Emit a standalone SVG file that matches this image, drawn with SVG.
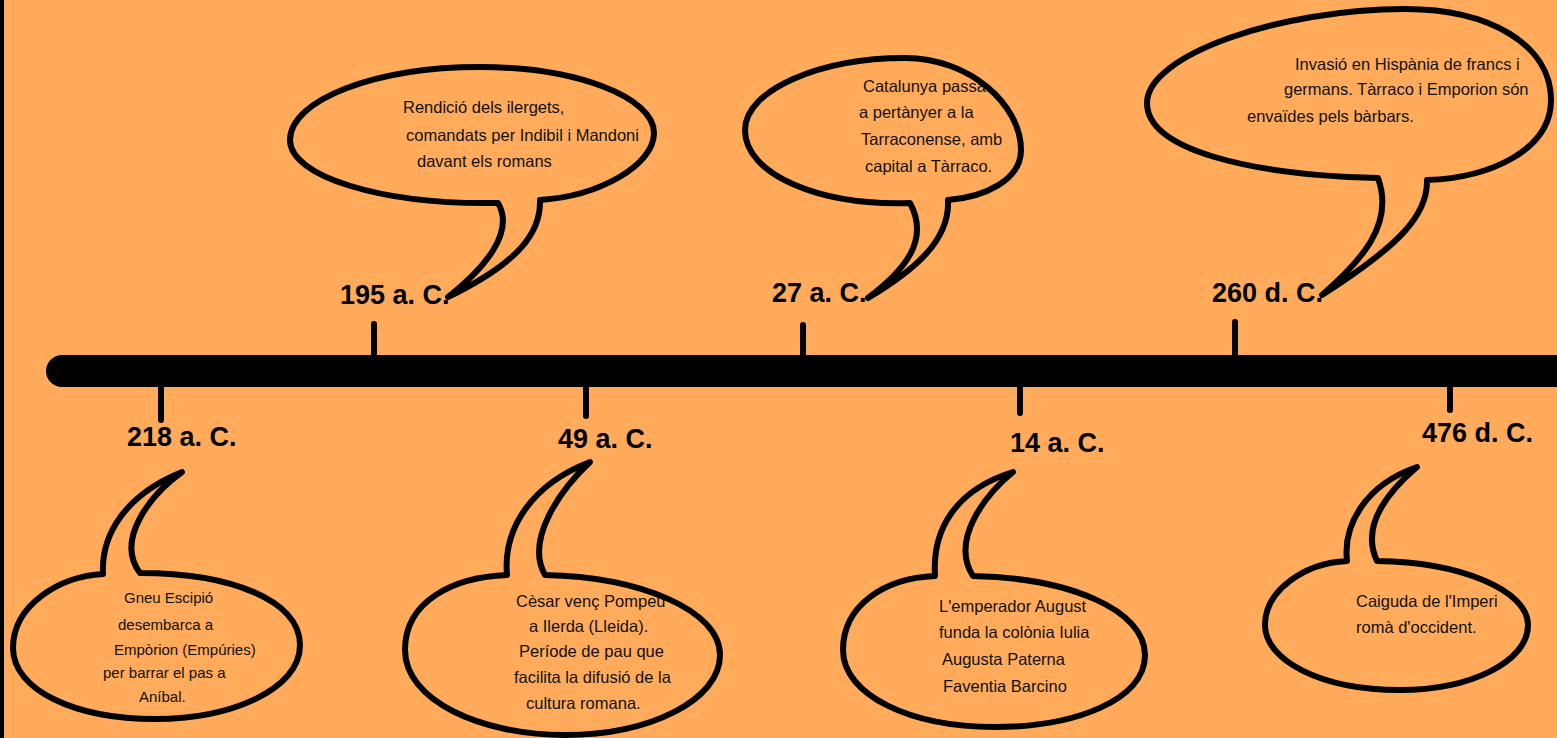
<svg xmlns="http://www.w3.org/2000/svg" width="1557" height="738" viewBox="0 0 1557 738">
<style>
.bub{fill:#FFAB5B;stroke:#000;stroke-width:6;stroke-linejoin:round}
.tick{stroke:#000;stroke-width:6;stroke-linecap:round}
.date{font-family:"Liberation Sans",Arial,sans-serif;font-weight:bold;font-size:27px;fill:#000}
.t{font-family:"Liberation Sans",Arial,sans-serif;font-size:16.5px;fill:#111}
.s{font-size:15px}
</style>
<rect width="1557" height="738" fill="#FFAB5B"/>
<rect x="0" y="0" width="4" height="738" fill="#000"/>
<g id="timeline">
<rect x="46" y="355" width="1530" height="32" rx="16" fill="#000"/>
</g>
<g id="connectors">
<line class="tick" x1="374" y1="324" x2="374" y2="356"/>
<line class="tick" x1="803" y1="325" x2="803" y2="356"/>
<line class="tick" x1="1235" y1="322" x2="1235" y2="356"/>
<line class="tick" x1="161" y1="386" x2="161" y2="420"/>
<line class="tick" x1="586" y1="386" x2="586" y2="416"/>
<line class="tick" x1="1020" y1="386" x2="1020" y2="413"/>
<line class="tick" x1="1450" y1="386" x2="1450" y2="410"/>
</g>
<g id="n195">
<path class="bub" d="M498,203 C380,205 290,176 290,140 C290,100 375,67 480,67 C576,67 654,97 654,133 C654,165 600,196 540,200 C541,232 520,262 448,297 C485,268 515,232 498,203 Z"/>
<text class="t" font-size="17.5"><tspan x="403" y="113">Rendició dels ilergets,</tspan><tspan x="406" y="141">comandats per Indibil i Mandoni</tspan><tspan x="417" y="167">davant els romans</tspan></text>
<text class="date" x="340" y="304">195 a. C.</text>
</g>
<g id="n27">
<path class="bub" d="M910,203 C820,206 745,175 745,130 C745,90 820,58 905,58 C970,58 1021,105 1021,150 C1021,180 985,197 948,200 C950,240 915,270 868,298 C905,270 930,240 910,203 Z"/>
<text class="t" font-size="17.3"><tspan x="863" y="92">Catalunya passa</tspan><tspan x="859" y="118">a pertànyer a la</tspan><tspan x="861" y="145">Tarraconense, amb</tspan><tspan x="865" y="172">capital a Tàrraco.</tspan></text>
<text class="date" x="772" y="302">27 a. C.</text>
</g>
<g id="n260">
<path class="bub" d="M1378,178 C1250,175 1147,150 1147,103 C1147,55 1280,9 1405,9 C1490,9 1551,45 1551,100 C1551,150 1490,178 1427,180 C1428,215 1400,245 1322,295 C1360,262 1395,225 1378,178 Z"/>
<text class="t" font-size="17.4"><tspan x="1295" y="70">Invasió en Hispània de francs i</tspan><tspan x="1284" y="95">germans. Tàrraco i Emporion són</tspan><tspan x="1247" y="122">envaïdes pels bàrbars.</tspan></text>
<text class="date" x="1212" y="302">260 d. C.</text>
</g>
<g id="n218">
<text class="date" x="127" y="446">218 a. C.</text>
<path class="bub" d="M140,573 C230,573 300,600 300,645 C300,690 230,719 155,719 C75,719 13,690 13,648 C13,605 60,576 103,574 C101,535 125,495 182,472 C150,495 115,540 140,573 Z"/>
<text class="t s"><tspan x="124" y="603">Gneu Escipió</tspan><tspan x="118" y="630">desembarca a</tspan><tspan x="114" y="655">Empòrion (Empúries)</tspan><tspan x="103" y="678">per barrar el pas a</tspan><tspan x="139" y="702">Aníbal.</tspan></text>
</g>
<g id="n49">
<text class="date" x="558" y="448">49 a. C.</text>
<path class="bub" d="M545,575 C640,577 720,610 720,655 C720,700 650,735 565,735 C480,735 405,700 405,650 C405,600 455,577 507,575 C503,530 530,485 590,462 C560,490 525,540 545,575 Z"/>
<text class="t" font-size="16"><tspan x="516" y="607">Cèsar venç Pompeu</tspan><tspan x="529" y="632">a Ilerda (Lleida).</tspan><tspan x="519" y="657">Període de pau que</tspan><tspan x="514" y="683">facilita la difusió de la</tspan><tspan x="526" y="709">cultura romana.</tspan></text>
</g>
<g id="n14">
<text class="date" x="1010" y="452">14 a. C.</text>
<path class="bub" d="M973,576 C1070,578 1145,610 1145,655 C1145,700 1075,727 995,727 C910,727 843,695 843,650 C843,605 885,578 935,576 C932,530 955,490 1013,472 C985,495 950,540 973,576 Z"/>
<text class="t" font-size="17"><tspan x="939" y="612">L'emperador August</tspan><tspan x="939" y="638">funda la colònia Iulia</tspan><tspan x="942" y="665">Augusta Paterna</tspan><tspan x="943" y="692">Faventia Barcino</tspan></text>
</g>
<g id="n476">
<text class="date" x="1422" y="442">476 d. C.</text>
<path class="bub" d="M1377,561 C1460,562 1528,590 1528,625 C1528,662 1470,690 1400,690 C1320,690 1265,660 1265,625 C1265,590 1305,563 1347,561 C1343,525 1365,485 1417,467 C1390,490 1360,525 1377,561 Z"/>
<text class="t" font-size="16.8"><tspan x="1356" y="607">Caiguda de l'Imperi</tspan><tspan x="1356" y="633">romà d'occident.</tspan></text>
</g>
</svg>
